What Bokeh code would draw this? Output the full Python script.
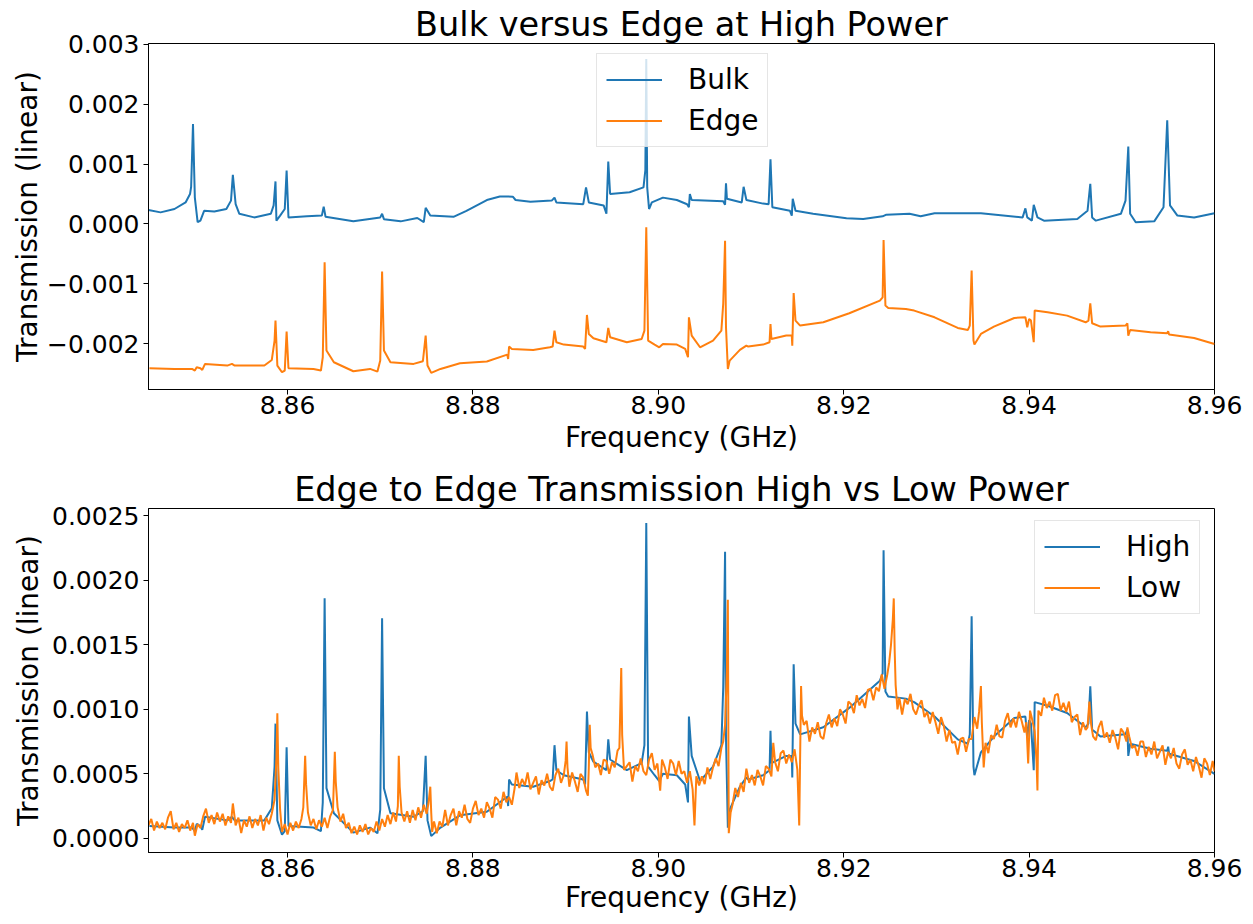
from bokeh.plotting import figure
from bokeh.models import (Range1d, FixedTicker, CustomJSTickFormatter, Legend,
                          LegendItem)
from bokeh.layouts import column
from bokeh.embed import file_html
from bokeh.resources import INLINE

BLUE = "#1f77b4"
ORANGE = "#ff7f0e"
FONT = "DejaVu Sans"
UNIT = 1e-3  # values below are in units of 1e-3 (linear transmission)

# ---------------- data ----------------
bulk_points = [
    (8.8450, 0.233), (8.8463, 0.194), (8.8478, 0.25), (8.8490, 0.36), (8.84948, 0.50),
    (8.8496, 0.62), (8.8498, 1.667), (8.8500, 0.44), (8.8503, 0.03), (8.8506, 0.056),
    (8.8510, 0.22), (8.8521, 0.21), (8.8534, 0.25), (8.8539, 0.39), (8.8541, 0.82),
    (8.8544, 0.33), (8.8548, 0.17), (8.8564, 0.11), (8.8582, 0.17), (8.8585, 0.31),
    (8.8587, 0.71), (8.8588, 0.056), (8.8592, 0.14), (8.8597, 0.25), (8.8599, 0.89),
    (8.8601, 0.11), (8.8621, 0.128), (8.8637, 0.14), (8.8639, 0.29), (8.8641, 0.12),
    (8.8671, 0.044), (8.8700, 0.11), (8.8702, 0.17), (8.8704, 0.08), (8.8722, 0.044),
    (8.8740, 0.10), (8.8747, 0.03), (8.8749, 0.27), (8.8754, 0.14), (8.8779, 0.12),
    (8.8793, 0.22), (8.8815, 0.40), (8.8829, 0.46), (8.8843, 0.456), (8.8846, 0.40),
    (8.8862, 0.37), (8.8885, 0.39), (8.8888, 0.44), (8.8890, 0.36), (8.8919, 0.33),
    (8.8922, 0.61), (8.8925, 0.36), (8.8941, 0.31), (8.8944, 0.17), (8.8946, 1.04),
    (8.8948, 0.50), (8.8969, 0.53), (8.8984, 0.61), (8.8986, 0.90), (8.8987, 2.75),
    (8.8988, 0.61), (8.8990, 0.25), (8.8993, 0.36), (8.9005, 0.44), (8.9020, 0.40),
    (8.9031, 0.33), (8.9033, 0.28), (8.9034, 0.50), (8.9036, 0.40), (8.9070, 0.38),
    (8.9072, 0.32), (8.9073, 0.68), (8.9074, 0.42), (8.9090, 0.36), (8.9092, 0.62),
    (8.9095, 0.40), (8.9113, 0.34), (8.9119, 0.33), (8.9121, 1.08), (8.9123, 0.28),
    (8.9142, 0.22), (8.9144, 0.14), (8.9145, 0.42), (8.9148, 0.22), (8.9167, 0.17),
    (8.9203, 0.094), (8.9221, 0.083), (8.9242, 0.128), (8.9246, 0.156), (8.9271, 0.17),
    (8.9283, 0.13), (8.9298, 0.18), (8.9348, 0.178), (8.9393, 0.11), (8.9396, 0.26),
    (8.9398, 0.11), (8.9403, 0.056), (8.9405, 0.32), (8.9409, 0.11), (8.9416, 0.056),
    (8.9452, 0.083), (8.9463, 0.22), (8.9466, 0.67), (8.9468, 0.11), (8.9472, 0.056),
    (8.9499, 0.17), (8.9504, 0.39), (8.9507, 1.29), (8.9509, 0.17), (8.9515, 0.028),
    (8.9535, 0.044), (8.9545, 0.28), (8.9549, 1.73), (8.9552, 0.31), (8.9560, 0.14),
    (8.9578, 0.11), (8.9600, 0.18),
]

# Edge at high power, as plotted (offset) in the upper panel
edge_points = [
    (8.8451, -2.405), (8.8478, -2.417), (8.8497, -2.417), (8.8500, -2.444), (8.8502, -2.389),
    (8.8506, -2.405), (8.8508, -2.433), (8.8511, -2.333), (8.8535, -2.361), (8.8540, -2.333),
    (8.8543, -2.361), (8.8575, -2.361), (8.8583, -2.267), (8.8586, -1.944), (8.8587, -1.611),
    (8.8589, -2.361), (8.8594, -2.472), (8.8597, -2.444), (8.8599, -1.794), (8.8601, -2.405),
    (8.8628, -2.417), (8.8636, -2.444), (8.8638, -2.222), (8.8640, -0.639), (8.8642, -2.111),
    (8.8650, -2.306), (8.8671, -2.456), (8.8689, -2.417), (8.8697, -2.461), (8.8700, -2.278),
    (8.8702, -0.794), (8.8704, -2.111), (8.8711, -2.306), (8.8736, -2.333), (8.8746, -2.289),
    (8.8749, -1.861), (8.8751, -2.361), (8.8755, -2.483), (8.8765, -2.417), (8.8786, -2.322),
    (8.8815, -2.294), (8.8837, -2.178), (8.8838, -2.25), (8.8839, -2.044), (8.8842, -2.083),
    (8.8865, -2.10), (8.8883, -2.056), (8.8886, -2.044), (8.8888, -1.778), (8.8890, -1.972),
    (8.8898, -2.011), (8.8919, -2.044), (8.8921, -2.083), (8.8923, -1.517), (8.8925, -1.833),
    (8.8930, -1.906), (8.8944, -1.972), (8.8946, -1.733), (8.8948, -1.889), (8.8966, -1.972),
    (8.8982, -1.917), (8.8985, -1.778), (8.8987, -0.056), (8.8989, -1.944), (8.8996, -2.011),
    (8.9001, -2.056), (8.9005, -2.0), (8.9020, -2.011), (8.9029, -2.083), (8.9032, -2.222),
    (8.9033, -1.556), (8.9036, -1.861), (8.9045, -2.056), (8.9059, -1.944), (8.9068, -1.778),
    (8.9070, -1.333), (8.9072, -0.278), (8.9073, -1.722), (8.9075, -2.417), (8.9077, -2.278),
    (8.9088, -2.1), (8.9095, -2.028), (8.9097, -2.044), (8.9113, -2.011), (8.9120, -1.972),
    (8.9121, -1.667), (8.9122, -1.917), (8.9138, -1.861), (8.9144, -1.861), (8.91445, -2.028),
    (8.9146, -1.15), (8.9148, -1.611), (8.9153, -1.694), (8.9178, -1.639), (8.9206, -1.489),
    (8.9239, -1.278), (8.9242, -1.222), (8.9243, -0.267), (8.9245, -1.361), (8.9248, -1.4),
    (8.9267, -1.417), (8.9276, -1.444), (8.9298, -1.556), (8.9323, -1.733), (8.9334, -1.767),
    (8.9336, -1.694), (8.9338, -0.778), (8.9340, -1.944), (8.9341, -2.011), (8.9348, -1.833),
    (8.9362, -1.711), (8.9384, -1.567), (8.9396, -1.556), (8.9398, -1.722), (8.9400, -1.583),
    (8.9402, -1.611), (8.9405, -1.972), (8.9406, -1.444), (8.9420, -1.472), (8.9441, -1.528),
    (8.9461, -1.639), (8.9464, -1.611), (8.9466, -1.322), (8.9468, -1.656), (8.9477, -1.711),
    (8.9504, -1.694), (8.9506, -1.656), (8.9507, -1.861), (8.9509, -1.767), (8.9531, -1.806),
    (8.9549, -1.822), (8.9550, -1.789), (8.9551, -1.844), (8.9578, -1.9), (8.9600, -2.0),
]
edge_offset = 2.5  # the edge trace in the upper panel is shifted down by 0.0025

low_points = [
    (8.8450, 0.10), (8.8453, 0.15), (8.8456, 0.06), (8.8459, 0.13), (8.8462, 0.08), (8.8465, 0.12),
    (8.8468, 0.07), (8.8471, 0.16), (8.8474, 0.21), (8.8477, 0.07), (8.8480, 0.12), (8.8483, 0.05),
    (8.8486, 0.11), (8.8489, 0.08), (8.8492, 0.14), (8.8495, 0.06), (8.8498, 0.12), (8.8500, 0.02),
    (8.8503, 0.11), (8.8506, 0.08), (8.8509, 0.17), (8.8512, 0.23), (8.8515, 0.12), (8.8518, 0.18),
    (8.8521, 0.11), (8.8524, 0.20), (8.8527, 0.13), (8.8530, 0.19), (8.8533, 0.10), (8.8536, 0.17),
    (8.8539, 0.12), (8.8541, 0.27), (8.8544, 0.10), (8.8547, 0.16), (8.8550, 0.04), (8.8553, 0.14),
    (8.8556, 0.09), (8.8559, 0.17), (8.8562, 0.08), (8.8565, 0.15), (8.8568, 0.10), (8.8571, 0.18),
    (8.8574, 0.06), (8.8577, 0.16), (8.8580, 0.11), (8.8583, 0.19), (8.8586, 0.30), (8.8588, 0.62),
    (8.8589, 0.97), (8.8590, 0.55), (8.8592, 0.22), (8.8594, 0.05), (8.8597, 0.11), (8.8600, 0.03),
    (8.8603, 0.12), (8.8606, 0.06), (8.8609, 0.13), (8.8612, 0.08), (8.8615, 0.15), (8.8617, 0.24),
    (8.8619, 0.64), (8.8620, 0.42), (8.8622, 0.20), (8.8625, 0.10), (8.8628, 0.15), (8.8631, 0.07),
    (8.8634, 0.14), (8.8637, 0.09), (8.8640, 0.16), (8.8643, 0.08), (8.8646, 0.17), (8.8649, 0.22),
    (8.8651, 0.67), (8.8652, 0.44), (8.8654, 0.24), (8.8657, 0.13), (8.8660, 0.19), (8.8663, 0.08),
    (8.8666, 0.12), (8.8669, 0.04), (8.8672, 0.09), (8.8675, 0.03), (8.8678, 0.10), (8.8681, 0.05),
    (8.8684, 0.11), (8.8687, 0.03), (8.8690, 0.08), (8.8693, 0.05), (8.8696, 0.13), (8.8699, 0.06),
    (8.8702, 0.15), (8.8705, 0.09), (8.8708, 0.18), (8.8711, 0.11), (8.8714, 0.20), (8.8717, 0.13),
    (8.8719, 0.25), (8.8720, 0.64), (8.8721, 0.40), (8.8723, 0.20), (8.8726, 0.13), (8.8729, 0.21),
    (8.8732, 0.12), (8.8735, 0.22), (8.8738, 0.14), (8.8741, 0.24), (8.8744, 0.16), (8.8747, 0.26),
    (8.8750, 0.19), (8.8752, 0.27), (8.8754, 0.40), (8.8755, 0.20), (8.8756, 0.05),
    (8.8758, 0.13), (8.8761, 0.04), (8.8764, 0.13), (8.8767, 0.09), (8.8770, 0.22), (8.8773, 0.10),
    (8.8776, 0.18), (8.8779, 0.23), (8.8782, 0.10), (8.8785, 0.21), (8.8788, 0.16), (8.8791, 0.26),
    (8.8794, 0.15), (8.8797, 0.12), (8.8800, 0.23), (8.8803, 0.29), (8.8806, 0.18), (8.8809, 0.23),
    (8.8812, 0.16), (8.8815, 0.28), (8.8818, 0.23), (8.8821, 0.16), (8.8824, 0.32), (8.8827, 0.30),
    (8.8830, 0.23), (8.8833, 0.36), (8.8836, 0.28), (8.8839, 0.32), (8.8842, 0.26), (8.8845, 0.39),
    (8.8847, 0.51), (8.8850, 0.39), (8.8853, 0.46), (8.8856, 0.41), (8.8859, 0.51), (8.8862, 0.38),
    (8.8865, 0.43), (8.8868, 0.48), (8.8871, 0.34), (8.8874, 0.45), (8.8877, 0.41), (8.8880, 0.50),
    (8.8883, 0.40), (8.8886, 0.37), (8.8889, 0.49), (8.8892, 0.54), (8.8895, 0.43), (8.8898, 0.49),
    (8.8900, 0.60), (8.8901, 0.75), (8.8902, 0.55), (8.8904, 0.40), (8.8907, 0.51), (8.8910, 0.44),
    (8.8913, 0.36), (8.8916, 0.50), (8.8919, 0.47), (8.8922, 0.37), (8.8924, 0.33), (8.8925, 0.55),
    (8.8926, 0.88), (8.8927, 0.70), (8.8929, 0.65), (8.8932, 0.55), (8.8935, 0.58), (8.8938, 0.49),
    (8.8941, 0.61), (8.8944, 0.60), (8.8947, 0.50), (8.8950, 0.59), (8.8953, 0.55), (8.8956, 0.68),
    (8.8958, 0.70), (8.8960, 1.32), (8.8961, 0.80), (8.8963, 0.53), (8.8966, 0.56), (8.8969, 0.59),
    (8.8972, 0.44), (8.8975, 0.56), (8.8978, 0.52), (8.8981, 0.62), (8.8984, 0.52), (8.8987, 0.49),
    (8.8990, 0.61), (8.8993, 0.66), (8.8996, 0.53), (8.8999, 0.58), (8.9002, 0.37), (8.9004, 0.61),
    (8.9007, 0.55), (8.9010, 0.46), (8.9013, 0.61), (8.9016, 0.58), (8.9019, 0.49), (8.9022, 0.60),
    (8.9025, 0.50), (8.9028, 0.52), (8.9031, 0.43), (8.9034, 0.52), (8.9037, 0.38), (8.9039, 0.10),
    (8.9041, 0.48), (8.9044, 0.41), (8.9047, 0.48), (8.9050, 0.42), (8.9053, 0.55), (8.9056, 0.46),
    (8.9059, 0.55), (8.9062, 0.62), (8.9065, 0.56), (8.9068, 0.70), (8.9070, 0.75), (8.9072, 0.88),
    (8.9074, 1.30), (8.9075, 1.85), (8.9076, 0.04), (8.9078, 0.20), (8.9080, 0.26), (8.9083, 0.39),
    (8.9086, 0.32), (8.9089, 0.43), (8.9092, 0.36), (8.9095, 0.54), (8.9098, 0.43), (8.9101, 0.49),
    (8.9104, 0.41), (8.9107, 0.53), (8.9110, 0.48), (8.9113, 0.41), (8.9116, 0.56), (8.9119, 0.54),
    (8.9122, 0.48), (8.9124, 0.74), (8.9126, 0.59), (8.9129, 0.52), (8.9132, 0.66), (8.9135, 0.68),
    (8.9138, 0.58), (8.9141, 0.65), (8.9144, 0.59), (8.9147, 0.69), (8.9150, 0.53), (8.9152, 0.10),
    (8.9154, 1.18), (8.9155, 0.95), (8.9157, 0.88), (8.9160, 0.91), (8.9163, 0.75), (8.9166, 0.86),
    (8.9169, 0.81), (8.9172, 0.90), (8.9175, 0.79), (8.9178, 0.77), (8.9181, 0.89), (8.9184, 0.96),
    (8.9187, 0.86), (8.9190, 0.93), (8.9193, 0.87), (8.9196, 1.00), (8.9199, 0.96), (8.9202, 0.89),
    (8.9205, 1.06), (8.9208, 1.04), (8.9211, 0.97), (8.9214, 1.11), (8.9217, 1.03), (8.9220, 1.08),
    (8.9223, 1.01), (8.9226, 1.15), (8.9229, 1.16), (8.9232, 1.07), (8.9235, 1.17), (8.9238, 1.14),
    (8.9241, 1.27), (8.9244, 1.16), (8.9247, 1.27), (8.9249, 1.36), (8.9251, 1.50), (8.9253, 1.70),
    (8.9254, 1.86), (8.9255, 1.45), (8.9256, 1.19), (8.9258, 1.00), (8.9260, 1.09), (8.9263, 0.96),
    (8.9266, 1.08), (8.9269, 1.04), (8.9272, 1.12), (8.9275, 1.00), (8.9278, 0.96), (8.9281, 1.03),
    (8.9284, 1.07), (8.9287, 0.94), (8.9290, 0.98), (8.9293, 0.89), (8.9296, 0.98), (8.9299, 0.90),
    (8.9302, 0.81), (8.9305, 0.94), (8.9308, 0.87), (8.9311, 0.75), (8.9314, 0.84), (8.9317, 0.74),
    (8.9320, 0.75), (8.9323, 0.65), (8.9326, 0.77), (8.9329, 0.78), (8.9332, 0.67), (8.9335, 0.77),
    (8.9338, 0.77), (8.9341, 0.94), (8.9344, 0.85), (8.9346, 0.98), (8.9348, 1.18), (8.9349, 0.90),
    (8.9351, 0.55), (8.9353, 0.74), (8.9356, 0.66), (8.9359, 0.80), (8.9362, 0.77), (8.9365, 0.88),
    (8.9368, 0.79), (8.9371, 0.78), (8.9374, 0.91), (8.9377, 0.97), (8.9380, 0.86), (8.9383, 0.93),
    (8.9386, 0.86), (8.9389, 0.98), (8.9392, 0.91), (8.9395, 0.82), (8.9397, 0.90), (8.9399, 0.58),
    (8.9401, 0.99), (8.9403, 0.93), (8.9406, 0.83), (8.9408, 0.60), (8.9409, 0.37), (8.9410, 0.99),
    (8.9413, 0.95), (8.9416, 1.09), (8.9419, 1.01), (8.9422, 1.06), (8.9425, 0.99), (8.9428, 1.11),
    (8.9431, 1.12), (8.9434, 0.99), (8.9437, 1.05), (8.9440, 0.98), (8.9443, 1.06), (8.9446, 0.90),
    (8.9449, 0.94), (8.9452, 0.96), (8.9455, 0.80), (8.9458, 0.90), (8.9461, 0.84), (8.9463, 0.86),
    (8.9465, 1.06), (8.9467, 0.88), (8.9469, 0.79), (8.9472, 0.76), (8.9475, 0.86), (8.9478, 0.91),
    (8.9481, 0.78), (8.9484, 0.82), (8.9487, 0.74), (8.9490, 0.84), (8.9493, 0.78), (8.9496, 0.69),
    (8.9499, 0.85), (8.9502, 0.82), (8.9505, 0.75), (8.9506, 0.86), (8.9508, 0.79), (8.9511, 0.70),
    (8.9514, 0.72), (8.9517, 0.64), (8.9520, 0.75), (8.9523, 0.75), (8.9526, 0.63), (8.9529, 0.71),
    (8.9532, 0.65), (8.9535, 0.75), (8.9538, 0.62), (8.9541, 0.67), (8.9544, 0.72), (8.9547, 0.57),
    (8.9550, 0.67), (8.9553, 0.62), (8.9556, 0.70), (8.9559, 0.58), (8.9562, 0.54), (8.9565, 0.65),
    (8.9568, 0.69), (8.9571, 0.57), (8.9574, 0.61), (8.9577, 0.52), (8.9580, 0.63), (8.9583, 0.56),
    (8.9586, 0.47), (8.9589, 0.62), (8.9592, 0.58), (8.9595, 0.49), (8.9598, 0.60), (8.9600, 0.52),
]

x_ticks = [8.86, 8.88, 8.90, 8.92, 8.94, 8.96]
top_y_ticks = [-0.002, -0.001, 0.0, 0.001, 0.002, 0.003]
bot_y_ticks = [0.0, 0.0005, 0.0010, 0.0015, 0.0020, 0.0025]

titles = ["Bulk versus Edge at High Power", "Edge to Edge Transmission High vs Low Power"]
x_label = "Frequency (GHz)"
y_label = "Transmission (linear)"


def unzip(points, shift=0.0):
    return ([p[0] for p in points], [(p[1] + shift) * UNIT for p in points])


bulk_f, bulk_v = unzip(bulk_points)
edge_f, edge_v = unzip(edge_points)
high_f, high_v = unzip(edge_points, edge_offset)
low_f, low_v = unzip(low_points)


def style(p, yticks, ydec, ylab_standoff, xlab_standoff):
    p.title.text_font = FONT
    p.title.text_font_size = "33.5px"
    p.title.text_font_style = "normal"
    p.title.text_color = "black"
    p.title.align = "center"
    p.title.standoff = 0
    p.xgrid.visible = False
    p.ygrid.visible = False
    p.outline_line_color = "black"
    p.outline_line_width = 1
    p.outline_line_alpha = 1
    p.background_fill_color = "white"
    p.border_fill_color = "white"
    p.xaxis.ticker = FixedTicker(ticks=x_ticks)
    p.xaxis.formatter = CustomJSTickFormatter(code="return tick.toFixed(2);")
    p.yaxis.ticker = FixedTicker(ticks=yticks)
    p.yaxis.formatter = CustomJSTickFormatter(
        code="return (tick < -1e-12 ? '\u2212' : '') + Math.abs(tick).toFixed(%d);" % ydec)
    for ax in (p.xaxis[0], p.yaxis[0]):
        ax.major_label_text_font = FONT
        ax.major_label_text_font_size = "25px"
        ax.major_label_text_color = "black"
        ax.axis_label_text_font = FONT
        ax.axis_label_text_font_size = "28px"
        ax.axis_label_text_font_style = "normal"
        ax.axis_label_text_color = "black"
        ax.axis_line_color = "black"
        ax.axis_line_width = 1
        ax.major_tick_line_color = "black"
        ax.major_tick_line_width = 1
        ax.major_tick_out = 5
        ax.major_tick_in = 0
        ax.minor_tick_line_color = None
    p.xaxis.major_label_standoff = 1
    p.yaxis.major_label_standoff = 4
    p.xaxis.axis_label = x_label
    p.yaxis.axis_label = y_label
    p.xaxis.axis_label_standoff = xlab_standoff
    p.yaxis.axis_label_standoff = ylab_standoff


def add_legend(p, items, loc):
    leg = Legend(items=items, location=loc)
    leg.label_text_font = FONT
    leg.label_text_font_size = "28px"
    leg.label_text_color = "black"
    leg.glyph_width = 56
    leg.glyph_height = 33
    leg.label_height = 33
    leg.label_standoff = 26
    leg.spacing = 8
    leg.padding = 9
    leg.margin = 0
    leg.border_line_color = "#cccccc"
    leg.border_line_width = 1
    leg.background_fill_color = "white"
    leg.background_fill_alpha = 0.8
    p.add_layout(leg)


# ---------------- top panel ----------------
top = figure(width=1253, height=464, title=titles[0],
             x_range=Range1d(8.845, 8.96), y_range=Range1d(-0.00276, 0.00301),
             output_backend="svg", toolbar_location=None,
             min_border_left=148, min_border_right=39,
             min_border_top=43, min_border_bottom=75)
style(top, top_y_ticks, 3, 0, 4)
r_bulk = top.line(bulk_f, bulk_v, line_color=BLUE, line_width=2)
r_edge = top.line(edge_f, edge_v, line_color=ORANGE, line_width=2)
add_legend(top, [LegendItem(label="Bulk", renderers=[r_bulk]),
                 LegendItem(label="Edge", renderers=[r_edge])], (448, 242))

# ---------------- bottom panel ----------------
bot = figure(width=1253, height=459, title=titles[1],
             x_range=Range1d(8.845, 8.96), y_range=Range1d(-0.00011, 0.002557),
             output_backend="svg", toolbar_location=None,
             min_border_left=148, min_border_right=39,
             min_border_top=44, min_border_bottom=71)
style(bot, bot_y_ticks, 4, 4, 1)
r_high = bot.line(high_f, high_v, line_color=BLUE, line_width=2)
r_low = bot.line(low_f, low_v, line_color=ORANGE, line_width=2)
add_legend(bot, [LegendItem(label="High", renderers=[r_high]),
                 LegendItem(label="Low", renderers=[r_low])], (886, 238))

layout = column(top, bot)
open("out.html", "w").write(file_html(layout, INLINE))
